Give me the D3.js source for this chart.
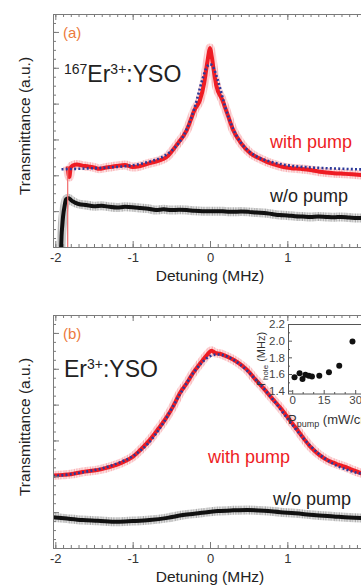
<!DOCTYPE html>
<html>
<head>
<meta charset="utf-8">
<script src="https://cdn.jsdelivr.net/npm/d3@7"></script>
<style>
  body { margin: 0; background: #fff; }
  svg { display: block; font-family: "Liberation Sans", Arial, sans-serif; }
</style>
</head>
<body>
<script>
// panel (a) 167Er3+:YSO, detuning in MHz, transmittance in a.u.
var detA_pump = [-1.84,-1.82,-1.8,-1.77,-1.72,-1.65,-1.58,-1.5,-1.43,-1.36,-1.3,-1.21,-1.1,-1.0,-0.9,-0.78,-0.67,-0.56,-0.43,-0.3,-0.2,-0.13,-0.08,-0.04,-0.02,0,0.02,0.04,0.08,0.16,0.22,0.3,0.4,0.52,0.63,0.74,0.85,0.95,1.05,1.17,1.3,1.45,1.6,1.75,1.95,2.03];
var valA_pump = [2.25,1.95,2.22,2.28,2.3,2.27,2.25,2.22,2.18,2.21,2.23,2.26,2.29,2.23,2.26,2.34,2.40,2.51,2.85,3.26,3.82,4.10,4.52,5.08,5.35,5.55,5.35,5.05,4.52,4.10,3.74,3.26,2.90,2.62,2.48,2.37,2.29,2.23,2.20,2.18,2.15,2.09,2.06,2.04,2.01,2.0];
var detA_fit = [-1.92,-1.6,-1.3,-1.0,-0.8,-0.6,-0.5,-0.4,-0.3,-0.2,-0.1,-0.05,0,0.05,0.1,0.2,0.3,0.4,0.5,0.6,0.8,1.0,1.3,1.6,2.03];
var valA_fit = [2.17,2.19,2.22,2.28,2.37,2.53,2.68,2.91,3.29,3.88,4.66,4.98,5.10,4.98,4.66,3.88,3.29,2.91,2.68,2.53,2.37,2.28,2.22,2.19,2.16];
var detA_nopump = [-1.925,-1.92,-1.91,-1.9,-1.88,-1.86,-1.83,-1.78,-1.7,-1.6,-1.5,-1.4,-1.3,-1.2,-1.1,-1.0,-0.9,-0.8,-0.7,-0.6,-0.5,-0.4,-0.3,-0.2,-0.1,0,0.1,0.2,0.3,0.4,0.5,0.6,0.7,0.8,0.9,1.0,1.1,1.2,1.3,1.4,1.5,1.6,1.7,1.8,1.9,2.03];
var valA_nopump = [0,0.3,0.6,0.85,1.15,1.33,1.36,1.28,1.20,1.17,1.14,1.15,1.12,1.10,1.12,1.11,1.09,1.07,1.03,1.05,1.03,1.04,1.03,1.01,1.00,1.00,1.00,0.99,0.98,0.99,0.98,0.96,0.95,0.92,0.89,0.88,0.86,0.85,0.84,0.85,0.84,0.83,0.84,0.82,0.81,0.80];
var edgeA = [-1.84, 0, 2.25]; // thin red line where the pumped trace starts

// panel (b) Er3+:YSO
var detB_pump = [-2.03,-1.9,-1.8,-1.65,-1.5,-1.4,-1.3,-1.21,-1.1,-1.0,-0.9,-0.78,-0.67,-0.56,-0.47,-0.39,-0.3,-0.22,-0.13,-0.04,0.02,0.07,0.13,0.2,0.28,0.35,0.42,0.48,0.58,0.69,0.8,0.91,1.02,1.13,1.22,1.3,1.4,1.52,1.63,1.75,1.85,1.95,2.03];
var valB_pump = [2.02,2.04,2.06,2.12,2.16,2.20,2.26,2.32,2.42,2.54,2.74,3.01,3.32,3.65,3.98,4.32,4.60,4.88,5.14,5.38,5.50,5.44,5.42,5.36,5.28,5.19,5.08,4.97,4.72,4.46,4.18,3.91,3.60,3.29,3.03,2.82,2.62,2.45,2.35,2.26,2.17,2.09,2.04];
var detB_fit = [-2.03,-1.8,-1.6,-1.4,-1.2,-1.0,-0.8,-0.6,-0.4,-0.2,0,0.1,0.2,0.4,0.6,0.8,1.0,1.2,1.4,1.6,1.8,2.03];
var valB_fit = [2.0,2.06,2.13,2.22,2.36,2.56,2.92,3.50,4.25,4.93,5.35,5.40,5.36,5.10,4.68,4.18,3.62,3.08,2.64,2.34,2.16,2.04];
var detB_nopump = [-2.03,-1.85,-1.65,-1.45,-1.2,-1.0,-0.78,-0.55,-0.35,-0.15,-0.04,0.1,0.3,0.48,0.7,0.91,1.1,1.34,1.6,1.8,2.03];
var valB_nopump = [0.86,0.82,0.78,0.76,0.73,0.75,0.78,0.84,0.92,0.97,1.00,1.03,1.05,1.06,1.04,1.00,0.97,0.92,0.88,0.85,0.83];

// inset: hole width vs pump power
var insetPower = [1.1,3.5,4.9,6.3,7.9,9.4,12.9,17.5,22.4,28.7];
var insetWidth = [1.56,1.61,1.54,1.59,1.58,1.57,1.58,1.62,1.70,1.99];
var insetYTicks = [1.4,1.6,1.8,2.0,2.2];
var insetXTicks = [0,15,30];

var xTickLabels = [-2,-1,0,1,2];

var W = 361, H = 587;
var svg = d3.select('body').append('svg').attr('width', W).attr('height', H);
var defs = svg.append('defs');

// fine vertical stripes give the traces a noisy edge
function stripes(id, col) {
  var p = defs.append('pattern').attr('id', id).attr('patternUnits', 'userSpaceOnUse')
    .attr('width', 5.3).attr('height', 6);
  [[0, 0.7, 0.45], [1.1, 0.6, 0.15], [2.2, 0.8, 0.55], [3.4, 0.5, 0.2], [4.3, 0.6, 0.35]].forEach(function (s) {
    p.append('rect').attr('x', s[0]).attr('y', 0).attr('width', s[1]).attr('height', 6)
      .attr('fill', col).attr('fill-opacity', s[2]);
  });
}
stripes('noiseR', '#ee1c24');
stripes('noiseK', '#111');

var x = d3.scaleLinear().domain([-2.03, 2.03]).range([53, 367]);
var frameCol = '#7a7a7a';

function zip(a, b) { return a.map(function (d, i) { return [d, b[i]]; }); }

function panel(top, cfg) {
  var bottom = top + 233;
  var y = d3.scaleLinear().domain([0, 6.5]).range([bottom, top]);
  var g = svg.append('g');
  var id = 'clip' + top;
  defs.append('clipPath').attr('id', id).append('rect')
    .attr('x', 53).attr('y', top).attr('width', 320).attr('height', 233);
  var plot = g.append('g').attr('clip-path', 'url(#' + id + ')');
  var line = d3.line().x(function (d) { return x(d[0]); }).y(function (d) { return y(d[1]); }).curve(d3.curveMonotoneX);

  [[cfg.nopump, '#111', 'noiseK'], [cfg.pump, '#ee1c24', 'noiseR']].forEach(function (s) {
    plot.append('path').attr('d', line(s[0])).attr('fill', 'none')
      .attr('stroke', 'url(#' + s[2] + ')').attr('stroke-width', 9).attr('stroke-linejoin', 'round');
    plot.append('path').attr('d', line(s[0])).attr('fill', 'none')
      .attr('stroke', s[1]).attr('stroke-width', 4).attr('stroke-linejoin', 'round');
  });
  if (cfg.edge) {
    plot.append('line').attr('x1', x(cfg.edge[0])).attr('x2', x(cfg.edge[0]))
      .attr('y1', y(cfg.edge[1])).attr('y2', y(cfg.edge[2]))
      .attr('stroke', '#f06a6a').attr('stroke-width', 1.2);
  }
  plot.append('path').attr('d', line(cfg.fit)).attr('fill', 'none')
    .attr('stroke', '#2b3a9a').attr('stroke-width', 2.6).attr('stroke-dasharray', '2,2.2');

  // axes with inward ticks
  var minorX = d3.range(-20, 21).map(function (i) { return i / 10; });
  var ax = g.append('g').attr('transform', 'translate(0,' + bottom + ')')
    .call(d3.axisBottom(x).tickValues(minorX).tickSize(-3).tickFormat(''));
  var axM = g.append('g').attr('transform', 'translate(0,' + bottom + ')')
    .call(d3.axisBottom(x).tickValues(xTickLabels).tickSize(-6).tickPadding(6).tickFormat(d3.format('d')));
  var at = g.append('g').attr('transform', 'translate(0,' + top + ')')
    .call(d3.axisTop(x).tickValues(minorX).tickSize(-3).tickFormat(''));
  var atM = g.append('g').attr('transform', 'translate(0,' + top + ')')
    .call(d3.axisTop(x).tickValues(xTickLabels).tickSize(-6).tickFormat(''));
  var minorY = d3.range(0, 27).map(function (i) { return i / 4; });
  var al = g.append('g').attr('transform', 'translate(53,0)')
    .call(d3.axisLeft(y).tickValues(minorY).tickSize(-3).tickFormat(''));
  var alM = g.append('g').attr('transform', 'translate(53,0)')
    .call(d3.axisLeft(y).tickValues(d3.range(0, 7)).tickSize(-6).tickFormat(''));
  [ax, axM, at, atM, al, alM].forEach(function (a) {
    a.select('.domain').remove();
    a.selectAll('line').attr('stroke', frameCol);
    a.selectAll('text').attr('font-size', 13).attr('fill', '#333')
      .attr('font-family', '"Liberation Sans", Arial, sans-serif');
  });
  axM.selectAll('text').text(function (d) { return d < 0 ? '-' + (-d) : d; });

  g.append('rect').attr('x', 53.5).attr('y', top + 0.5).attr('width', 330).attr('height', 233)
    .attr('fill', 'none').attr('stroke', frameCol).attr('stroke-width', 1);

  // labels
  g.append('text').attr('x', 210).attr('y', bottom + 34).attr('text-anchor', 'middle')
    .attr('font-size', 15.5).attr('fill', '#222').text('Detuning (MHz)');
  g.append('text').attr('transform', 'translate(30,' + (top + 112) + ') rotate(-90)')
    .attr('text-anchor', 'middle').attr('font-size', 15.5).attr('fill', '#222')
    .text('Transmittance (a.u.)');
  g.append('text').attr('x', 63).attr('y', top + 24).attr('font-size', 15)
    .attr('fill', '#ec7a3c').text(cfg.tag);
  var t = g.append('text').attr('x', 64).attr('y', top + cfg.nameDy).attr('font-size', 23).attr('fill', '#222');
  cfg.name.forEach(function (p) {
    var ts = t.append('tspan').text(p[0]);
    if (p[1]) ts.attr('font-size', 14).attr('dy', -8);
    else ts.attr('dy', p[2] || 0);
  });
  g.append('text').attr('x', cfg.withX).attr('y', top + cfg.withDy).attr('font-size', 18)
    .attr('fill', '#ee1c24').text('with pump');
  g.append('text').attr('x', cfg.woX).attr('y', top + cfg.woDy).attr('font-size', 18)
    .attr('fill', '#222').text('w/o pump');
}

panel(14, {
  tag: '(a)',
  pump: zip(detA_pump, valA_pump), fit: zip(detA_fit, valA_fit), nopump: zip(detA_nopump, valA_nopump),
  edge: edgeA,
  name: [['167', true], ['Er', false, 8], ['3+', true], [':YSO', false, 8]], nameDy: 68,
  withX: 270, withDy: 134, woX: 270, woDy: 188
});
panel(315, {
  tag: '(b)',
  pump: zip(detB_pump, valB_pump), fit: zip(detB_fit, valB_fit), nopump: zip(detB_nopump, valB_nopump),
  name: [['Er', false], ['3+', true], [':YSO', false, 8]], nameDy: 62,
  withX: 208, withDy: 148, woX: 273, woDy: 190
});

// inset of panel (b)
var ix = d3.scaleLinear().domain([-2, 34]).range([288, 363.6]);
var iy = d3.scaleLinear().domain([1.36, 2.2]).range([394, 324]);
var ig = svg.append('g');
ig.append('rect').attr('x', 288).attr('y', 324).attr('width', 80).attr('height', 70).attr('fill', '#fff');
var iyA = ig.append('g').attr('transform', 'translate(288,0)')
  .call(d3.axisLeft(iy).tickValues(insetYTicks).tickSize(-4).tickPadding(3).tickFormat(d3.format('.1f')));
var iyMinor = ig.append('g').attr('transform', 'translate(288,0)')
  .call(d3.axisLeft(iy).tickValues([1.5, 1.7, 1.9, 2.1]).tickSize(-2).tickFormat(''));
var ixA = ig.append('g').attr('transform', 'translate(0,394)')
  .call(d3.axisBottom(ix).tickValues(insetXTicks).tickSize(-4).tickPadding(2).tickFormat(d3.format('d')));
var ixMinor = ig.append('g').attr('transform', 'translate(0,394)')
  .call(d3.axisBottom(ix).tickValues([5, 10, 20, 25]).tickSize(-2).tickFormat(''));
[iyA, iyMinor, ixA, ixMinor].forEach(function (a) {
  a.select('.domain').remove();
  a.selectAll('line').attr('stroke', '#555');
  a.selectAll('text').attr('font-size', 11.5).attr('fill', '#444')
    .attr('font-family', '"Liberation Sans", Arial, sans-serif');
});
ig.append('rect').attr('x', 288.5).attr('y', 324.5).attr('width', 90).attr('height', 69.5)
  .attr('fill', 'none').attr('stroke', '#555').attr('stroke-width', 1);
ig.selectAll('circle').data(zip(insetPower, insetWidth)).enter().append('circle')
  .attr('cx', function (d) { return ix(d[0]); }).attr('cy', function (d) { return iy(d[1]); })
  .attr('r', 3).attr('fill', '#111');
var yl = ig.append('text').attr('transform', 'translate(265,359) rotate(-90)')
  .attr('text-anchor', 'middle').attr('font-size', 11).attr('fill', '#333');
yl.append('tspan').text('\u0393');
yl.append('tspan').text('hole').attr('font-size', 8).attr('dy', 3);
yl.append('tspan').text(' (MHz)').attr('dy', -3);
var xl = ig.append('text').attr('x', 288).attr('y', 424).attr('font-size', 13).attr('fill', '#333');
xl.append('tspan').text('P');
xl.append('tspan').text('pump').attr('font-size', 9).attr('dy', 3);
xl.append('tspan').text(' (mW/cm').attr('dy', -3);
xl.append('tspan').text('2').attr('font-size', 9).attr('dy', -5);
xl.append('tspan').text(')').attr('dy', 5);
</script>
</body>
</html>
